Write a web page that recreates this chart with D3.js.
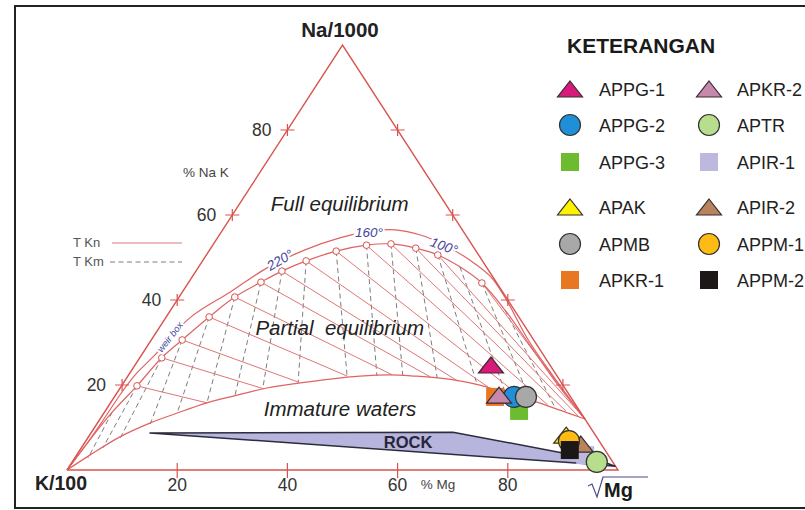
<!DOCTYPE html>
<html>
<head>
<meta charset="utf-8">
<script src="https://cdn.jsdelivr.net/npm/d3@7"></script>
<style>
body { margin: 0; background: #fff; }
svg { display: block; font-family: "Liberation Sans", Arial, sans-serif; }
</style>
</head>
<body>
<div id="chart"></div>
<script>
// Giggenbach Na-K-Mg ternary diagram

const width = 805,
    height = 510;

// all ternary values are [Mg %, Na %] (K is the rest)
const axisTicks = [20, 40, 60, 80];

const fullEquilibrium = [[0,0],[0.5,6],[0.7,12],[0.8,18],[1.2,22.5],[2.3,26.6],[4.4,35.8],[8.7,41.9],
    [12.5,47.5],[17.3,51.8],[22.2,54.6],[26.9,56.2],[31.3,56.5],[36.5,55.3],[42.1,52.9],[48.4,49.4],
    [54.0,45.6],[59.1,40.7],[68.6,30.4],[77.5,21.8],[88,12]];

const tempCurve = [[0,0],[0.6,7.1],[1.4,13.6],[2.8,19.8],[4.0,26.4],[5.6,30.6],[7.8,36.0],[10.1,40.7],
    [13.1,44.2],[15.6,46.8],[18.8,49.2],[23.1,51.5],[27.9,52.9],[32.2,53.2],[37.2,52.2],[42.0,50.6],
    [47.4,47.8],[53.3,44.0],[60.7,37.6],[69.3,29.4],[79.1,20],[88,12]];

const tempPoints = [[2.8,19.8],[4.0,26.4],[5.6,30.6],[7.8,36.0],[10.1,40.7],[13.1,44.2],[15.6,46.8],
    [18.8,49.2],[23.1,51.5],[27.9,52.9],[32.2,53.2],[37.2,52.2],[42.0,50.6],[53.3,44.0]];

const immatureLine = [[0,0],[2.4,3.5],[5.7,7.8],[9.6,11.1],[13.3,13.4],[17.5,15.8],[22.1,17.6],
    [26.6,19.3],[32.1,20.5],[37.0,21.4],[42.1,22.1],[47.4,22.4],[52.1,22.1],[56.9,21.6],[62.9,20.5],
    [69.3,18.6],[75.8,16.5],[82.4,14.1],[88,12]];

// TKn lines run from each temperature point to these ends
const tknEnds = [[17.5,15.8],[26.2,19.1],[31.6,20.7],[39.8,22.1],[47.8,22.4],[55.0,21.9],[60.5,20.9],
    [66.7,19.5],[73.5,17.4],[79.6,15.3],[83.6,13.9],[86.4,12.7],[88,12],[88,12]];

const tkmStart = [[1.4,13.6],[2.8,19.8],[4.0,26.4],[5.6,30.6],[7.8,36.0],[10.1,40.7],[13.1,44.2],
    [15.6,46.8],[18.8,49.2],[23.1,51.5],[27.9,52.9],[32.2,53.2],[37.2,52.2],[42.0,50.6],[47.4,47.8],
    [53.3,44.0],[60.7,37.6]];
const tkmEnd = [[2.4,2.8],[3.9,5.2],[5.9,7.5],[9.7,10.8],[13.3,13.4],[17.5,15.8],[21.7,17.6],
    [25.9,19.3],[31.7,20.5],[39.9,21.9],[45.2,22.1],[49.9,22.1],[56.4,21.6],[64.3,20.2],[70.3,18.4],
    [75.8,16.5],[81.3,14.6]];

const rockOutline = [[10.7,8.7],[65.6,8.9],[88.0,4.0],[93.4,3.1],[99.0,0.9],[94.2,1.4]];

const sampleNames = ["APPG-1","APPG-2","APPG-3","APAK","APMB","APKR-1",
    "APKR-2","APTR","APIR-1","APIR-2","APPM-1","APPM-2"];
const sampleMg = [64.6, 72.5, 75.1, 86.5, 74.7, 69.1, 69.6, 95.2, 92.3, 90.2, 87.7, 88.9];
const sampleNa = [24.7, 17.2, 13.9, 8.2, 17.2, 17.2, 17.6, 1.9, 3.5, 6.1, 6.8, 4.7];

// marker look for each sample
const markerStyle = {
    "APPG-1": { shape: "triangle", fill: "#d81b7a" },
    "APPG-2": { shape: "circle", fill: "#1f8fd8" },
    "APPG-3": { shape: "square", fill: "#6dbb2e" },
    "APAK":   { shape: "triangle", fill: "#fff200" },
    "APMB":   { shape: "circle", fill: "#a8a8a8" },
    "APKR-1": { shape: "square", fill: "#e87722" },
    "APKR-2": { shape: "triangle", fill: "#c689ab" },
    "APTR":   { shape: "circle", fill: "#b6de8c" },
    "APIR-1": { shape: "square", fill: "#bdb9de" },
    "APIR-2": { shape: "triangle", fill: "#b7845c" },
    "APPM-1": { shape: "circle", fill: "#fdbb13" },
    "APPM-2": { shape: "square", fill: "#1c1818" }
};
const drawOrder = ["APIR-1","APKR-1","APPG-3","APPG-2","APKR-2","APMB","APPG-1",
    "APIR-2","APAK","APPM-1","APPM-2","APTR"];

const red = "#d9534f";

const svg = d3.select("#chart")
    .append("svg")
    .attr("width", width)
    .attr("height", height)
    .attr("viewBox", [0, 0, width, height]);

// frame
svg.append("path")
    .attr("d", "M807,6H15V508H807")
    .attr("fill", "none")
    .attr("stroke", "#222")
    .attr("stroke-width", 2);

const x = d3.scaleLinear().domain([0, 100]).range([67, 618]);
const y = d3.scaleLinear().domain([0, 100]).range([470, 45]);
const px = d => x(d[0] + d[1] / 2),
    py = d => y(d[1]);

const line = d3.line().x(px).y(py).curve(d3.curveCatmullRom.alpha(0.5));
const straight = d3.line().x(px).y(py);

// dashed TKm lines
svg.append("g")
    .selectAll("path")
    .data(d3.zip(tkmStart, tkmEnd))
    .join("path")
    .attr("d", d => straight(d))
    .attr("stroke", "#7d7d7d")
    .attr("stroke-width", 1)
    .attr("stroke-dasharray", "5,3.5");

// solid TKn lines
svg.append("g")
    .selectAll("path")
    .data(d3.zip(tempPoints, tknEnds))
    .join("path")
    .attr("d", d => straight(d))
    .attr("stroke", "#e07676")
    .attr("stroke-width", 1);

// equilibrium curves
[fullEquilibrium, tempCurve, immatureLine].forEach(c => {
    svg.append("path")
        .attr("d", line(c))
        .attr("fill", "none")
        .attr("stroke", "#df6363")
        .attr("stroke-width", 1.2);
});

svg.append("g")
    .selectAll("circle")
    .data(tempPoints)
    .join("circle")
    .attr("cx", px)
    .attr("cy", py)
    .attr("r", 3.3)
    .attr("fill", "#fff")
    .attr("stroke", red)
    .attr("stroke-width", 1);

// triangle
svg.append("path")
    .attr("d", straight([[0,0],[100,0],[0,100],[0,0]]))
    .attr("fill", "none")
    .attr("stroke", red)
    .attr("stroke-width", 1.4);

// ticks
const tickG = svg.append("g").attr("stroke", red).attr("stroke-width", 1.2);
axisTicks.forEach(v => {
    [[0, v], [100 - v, v]].forEach(p => {
        tickG.append("path")
            .attr("d", `M${px(p) - 7},${py(p)}h14M${px(p)},${py(p) - 6}v12`);
    });
    tickG.append("path")
        .attr("d", `M${px([v, 0])},${py([v, 0]) - 7}v15`);
});

const txt = (t, xx, yy, size, opts = {}) => svg.append("text")
    .attr("x", xx)
    .attr("y", yy)
    .attr("font-size", size)
    .attr("fill", opts.fill || "#2b2b2b")
    .attr("font-weight", opts.weight || null)
    .attr("font-style", opts.style || null)
    .attr("text-anchor", opts.anchor || "start")
    .text(t);

axisTicks.forEach(v => {
    txt(v, px([0, v]) - 16, py([0, v]) + 6, 17.5, { anchor: "end", fill: "#333" });
    txt(v, px([v, 0]), 491, 17.5, { anchor: "middle", fill: "#333" });
});

// rock field
svg.append("path")
    .attr("d", straight(rockOutline) + "Z")
    .attr("fill", "#b7b4de")
    .attr("stroke", "#2c2c3c")
    .attr("stroke-width", 1.5)
    .attr("stroke-linejoin", "round");

txt("ROCK", px([59.3, 5.2]), py([59.3, 5.2]), 16.5, { anchor: "middle", weight: "bold", fill: "#262638" });

// region labels
txt("Full equilibrium", px([19, 61]), py([19, 61]), 20.5, { anchor: "middle", style: "italic", fill: "#222" });
txt("Partial\u00a0 equilibrium", px([33.6, 31.8]), py([33.6, 31.8]), 20.5, { anchor: "middle", style: "italic", fill: "#222" });
txt("Immature waters", px([43.2, 12.7]), py([43.2, 12.7]), 20.5, { anchor: "middle", style: "italic", fill: "#222" });

// temperature labels on the full equilibrium line
const tempLabel = (t, xx, yy, rot, size) => svg.append("text")
    .attr("transform", `translate(${xx},${yy}) rotate(${rot})`)
    .attr("text-anchor", "middle")
    .attr("dy", "0.35em")
    .attr("font-size", size)
    .attr("font-style", "italic")
    .attr("fill", "#45459a")
    .attr("stroke", "#fff")
    .attr("stroke-width", 4)
    .attr("paint-order", "stroke")
    .text(t);

tempLabel("160°", 369, 232, 0, 13.5);
tempLabel("100°", 444, 246, 20, 13.5);
tempLabel("220°", 280, 260, -30, 13.5);
tempLabel("weir box", 170, 337, -52, 9.5);

// vertex and axis titles
txt("Na/1000", 340, 37, 20.5, { anchor: "middle", weight: "bold", fill: "#222" });
txt("K/100", 61, 490, 19.5, { anchor: "middle", weight: "bold", fill: "#222" });
txt("% Na K", 183, 177, 13.5, { fill: "#444" });
txt("% Mg", 438, 489, 13.5, { anchor: "middle", fill: "#444" });

svg.append("path")
    .attr("d", "M588,486l4,-2l5,13l6,-20h45")
    .attr("fill", "none")
    .attr("stroke", "#4a4a8a")
    .attr("stroke-width", 1.2);
txt("Mg", 604, 497, 20, { weight: "bold", fill: "#1a1a1a" });

// TKn / TKm key
txt("T Kn", 73, 247, 13, { fill: "#555" });
txt("T Km", 73, 266, 13, { fill: "#555" });
svg.append("line").attr("x1", 112).attr("x2", 182).attr("y1", 243).attr("y2", 243)
    .attr("stroke", "#e07676").attr("stroke-width", 1.2);
svg.append("line").attr("x1", 110).attr("x2", 182).attr("y1", 262).attr("y2", 262)
    .attr("stroke", "#7d7d7d").attr("stroke-width", 1).attr("stroke-dasharray", "5,3.5");

// markers
function drawMarker(g, style) {
    if (style.shape === "triangle") {
        g.append("path").attr("d", "M0,-8L12.5,8H-12.5Z")
            .attr("fill", style.fill).attr("stroke", "#3a2a30").attr("stroke-width", 1.2);
    } else if (style.shape === "circle") {
        g.append("circle").attr("r", 10.5)
            .attr("fill", style.fill).attr("stroke", "#333").attr("stroke-width", 1.2);
    } else {
        g.append("rect").attr("x", -9).attr("y", -9).attr("width", 18).attr("height", 18)
            .attr("fill", style.fill);
    }
}

drawOrder.forEach(name => {
    const i = sampleNames.indexOf(name);
    const p = [sampleMg[i], sampleNa[i]];
    const g = svg.append("g").attr("transform", `translate(${px(p)},${py(p)})`);
    drawMarker(g, markerStyle[name]);
});

// legend
txt("KETERANGAN", 567, 53, 21, { weight: "bold", fill: "#1a1a1a" });
const rowY = [89, 125, 162, 207, 244, 280];
sampleNames.forEach((name, i) => {
    const col = Math.floor(i / 6), row = i % 6;
    const g = svg.append("g")
        .attr("transform", `translate(${col ? 709 : 570},${rowY[row]})`);
    drawMarker(g, markerStyle[name]);
    txt(name, col ? 737 : 599, rowY[row] + 6.5, 18, { fill: "#222" });
});
</script>
</body>
</html>
